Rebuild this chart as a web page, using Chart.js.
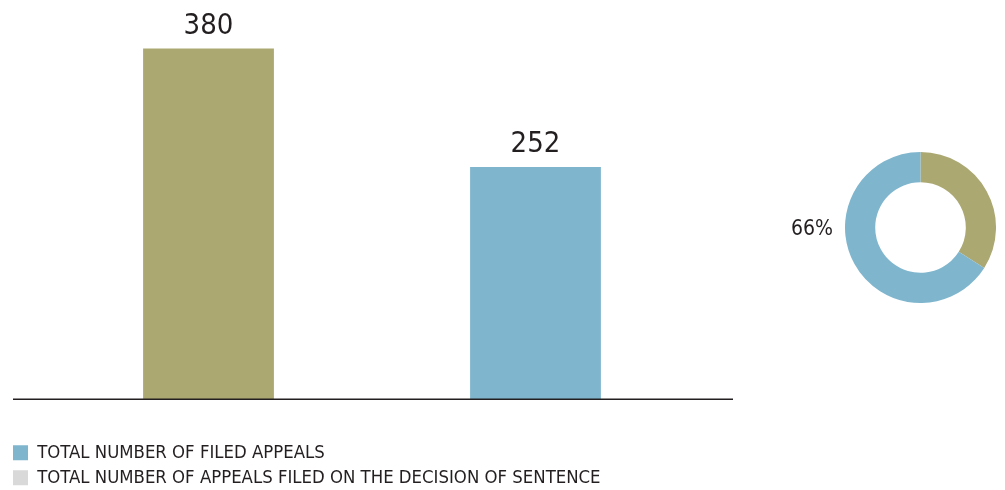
<!DOCTYPE html>
<html>
<head>
<meta charset="utf-8">
<script src="https://cdn.jsdelivr.net/npm/chart.js@4.4.0/dist/chart.umd.min.js"></script>
<style>
    html, body { margin: 0; padding: 0; background: #fff; }
    body { width: 1005px; height: 490px; position: relative; overflow: hidden; }
    #barBox { position: absolute; left: 0; top: 0; width: 745px; height: 500px; }
    #donutBox { position: absolute; left: 770px; top: 152px; width: 226px; height: 151px; }
</style>
</head>
<body>
<div id="barBox"><canvas id="barChart"></canvas></div>
<div id="donutBox"><canvas id="donutChart"></canvas></div>
<script>
// Chart data
const categories = ['Appeals filed on the decision of sentence', 'Filed appeals'];
const barValues = [380, 252];
const legendLabels = [
    'TOTAL NUMBER OF FILED APPEALS',
    'TOTAL NUMBER OF APPEALS FILED ON THE DECISION OF SENTENCE'
];
const donutCategories = ['Other', 'Filed appeals'];
const donutValues = [34, 66];
const donutLabel = '66%';

const OLIVE = '#aba872';
const BLUE = '#7fb6ce';
const GREY = '#d9d9da';
const TEXT = '#231f20';
const FONT = '"Liberation Sans Narrow", "DejaVu Sans Condensed", "Liberation Sans", sans-serif';

Chart.defaults.font.family = FONT;
Chart.defaults.color = TEXT;

/**
 * Baseline and value labels on top of the bars
 */
const barDecor = {
    id: 'barDecor',
    afterDatasetsDraw(chart) {
        const { ctx, chartArea, scales } = chart;
        const y0 = scales.y.getPixelForValue(0);

        ctx.save();
        ctx.strokeStyle = TEXT;
        ctx.lineWidth = 1.5;
        ctx.beginPath();
        ctx.moveTo(chartArea.left - 32, y0 - 0.75);
        ctx.lineTo(chartArea.right + 34, y0 - 0.75);
        ctx.stroke();

        ctx.font = '29px ' + FONT;
        ctx.fillStyle = TEXT;
        ctx.textAlign = 'center';
        ctx.textBaseline = 'alphabetic';
        chart.getDatasetMeta(0).data.forEach((bar, i) => {
            ctx.fillText(String(barValues[i]), bar.x, bar.y - 15);
        });
        ctx.restore();
    }
};

new Chart(document.getElementById('barChart'), {
    type: 'bar',
    data: {
        labels: categories,
        datasets: [{
            data: barValues,
            backgroundColor: [OLIVE, BLUE],
            borderWidth: 0,
            barPercentage: 0.4,
            categoryPercentage: 1
        }]
    },
    options: {
        responsive: true,
        maintainAspectRatio: false,
        animation: false,
        layout: {
            padding: { left: 6.4, right: 46, top: 30, bottom: 3 }
        },
        plugins: {
            tooltip: { enabled: false },
            legend: {
                display: true,
                position: 'bottom',
                align: 'start',
                onClick: null,
                labels: {
                    boxWidth: 15,
                    boxHeight: 15,
                    padding: 6.6,
                    color: TEXT,
                    font: { size: 18.4 },
                    generateLabels: () => legendLabels.map((text, i) => ({
                        text: text,
                        fillStyle: [BLUE, GREY][i],
                        strokeStyle: [BLUE, GREY][i],
                        lineWidth: 0,
                        fontColor: TEXT,
                        hidden: false,
                        index: i
                    }))
                }
            }
        },
        scales: {
            x: {
                grid: { display: false },
                border: { display: false },
                ticks: { display: false },
                afterFit(scale) { scale.height = 37; }
            },
            y: {
                min: 0,
                max: 400,
                grid: { display: false },
                border: { display: false },
                ticks: { display: false },
                afterFit(scale) { scale.width = 38.6; }
            }
        }
    },
    plugins: [barDecor]
});

/**
 * Percentage text on the left of the doughnut
 */
const donutText = {
    id: 'donutText',
    afterDraw(chart) {
        const { ctx, chartArea } = chart;
        const cy = (chartArea.top + chartArea.bottom) / 2;
        ctx.save();
        ctx.font = '21px ' + FONT;
        ctx.fillStyle = TEXT;
        ctx.textAlign = 'right';
        ctx.textBaseline = 'middle';
        ctx.fillText(donutLabel, chartArea.left - 12, cy + 2);
        ctx.restore();
    }
};

new Chart(document.getElementById('donutChart'), {
    type: 'doughnut',
    data: {
        labels: donutCategories,
        datasets: [{
            data: donutValues,
            backgroundColor: [OLIVE, BLUE],
            borderWidth: 0
        }]
    },
    options: {
        responsive: true,
        maintainAspectRatio: false,
        animation: false,
        cutout: '60%',
        layout: { padding: { left: 75 } },
        plugins: {
            legend: { display: false },
            tooltip: { enabled: false }
        }
    },
    plugins: [donutText]
});
</script>
</body>
</html>
